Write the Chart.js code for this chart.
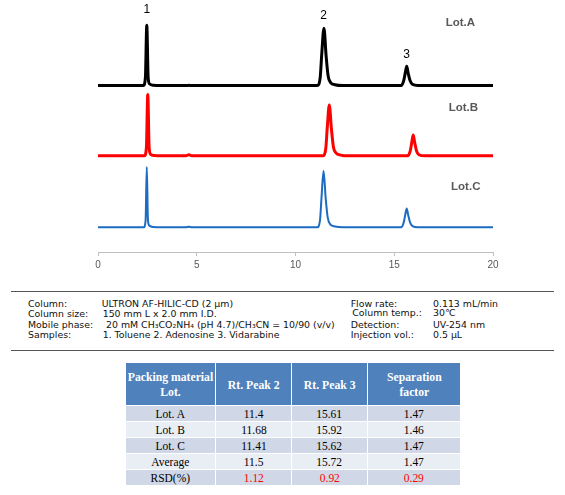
<!DOCTYPE html>
<html>
<head>
<meta charset="utf-8">
<script src="https://cdn.jsdelivr.net/npm/chart.js@4.4.1/dist/chart.umd.min.js"></script>
<style>
  html, body { margin:0; padding:0; background:#ffffff; }
  body { width:565px; height:495px; position:relative; overflow:hidden; }
  #chartWrap { position:absolute; left:0; top:0; width:565px; height:285px; }
  .info { position:absolute; font-family:"DejaVu Sans", sans-serif; font-size:9.4px; line-height:11px; color:#111; white-space:nowrap; }
  .hr { position:absolute; left:11px; width:543px; height:0; border-top:1px solid #555; }
  table { position:absolute; left:125px; top:362px; width:335px; border-collapse:collapse; table-layout:fixed; font-family:"Liberation Serif", serif; }
  td, th { border:1px solid #ffffff; padding:0; text-align:center; white-space:nowrap; }
  th { background:#4f81bd; color:#ffffff; font-weight:bold; font-size:13px; line-height:15px; height:42px; }
  td { font-size:13.5px; height:15px; line-height:15px; color:#000; }
  tr.dark td { background:#d0d8e8; }
  tr.light td { background:#e9edf4; }
  .cell { display:flex; justify-content:center; width:100%; }
  .sx { display:inline-block; transform:scaleX(0.85); flex:none; }
  .hx { display:inline-block; transform:scaleX(0.9); flex:none; }
  .red { color:#ff0000; }
</style>
</head>
<body>
<div id="chartWrap"><canvas id="c" width="565" height="285"></canvas></div>
<div id="infoBox"></div>
<table id="tbl"></table>
<script>
// ---------------- DATA ----------------
const lots = ["Lot.A", "Lot.B", "Lot.C"];
const xTicks = [0, 5, 10, 15, 20];

const lotATime   = [0, 2.30, 2.40, 2.47, 2.54, 2.62, 2.80, 3.2, 4.5, 4.6, 4.7, 11.10, 11.25, 11.33, 11.44, 11.55, 11.65, 11.78, 12.00, 12.4, 15.35, 15.48, 15.56, 15.63, 15.71, 15.80, 15.92, 16.2, 20];
const lotASignal = [0, 0,    8,    61,   8,    1.5,  0.3,  0,   0,   0.2, 0,   0,     8,     32,    58,    30,    10,    3,     0.8,   0,    0,     5,     13,    19.5,  12,    5,     1.2,   0,    0];

const lotBTime   = [0, 2.35, 2.45, 2.52, 2.59, 2.67, 2.85, 3.2, 4.45, 4.6, 4.75, 11.38, 11.53, 11.61, 11.71, 11.82, 11.92, 12.05, 12.28, 12.7, 15.68, 15.81, 15.89, 15.96, 16.04, 16.13, 16.25, 16.55, 20];
const lotBSignal = [0, 0,    8,    62,   8,    1.5,  0.3,  0,   0,    1.2, 0,    0,     7,     29,    51.5,  27,    9,     3,     0.8,   0,    0,     5,     14,    21,    13,    5,     1.2,   0,     0];

const lotCTime   = [0, 2.32, 2.41, 2.47, 2.53, 2.61, 2.80, 3.2, 4.45, 4.6, 4.75, 11.10, 11.24, 11.32, 11.42, 11.53, 11.63, 11.76, 12.00, 12.4, 15.35, 15.48, 15.56, 15.63, 15.71, 15.80, 15.92, 16.2, 20];
const lotCSignal = [0, 0,    7,    61,   7,    1.5,  0.3,  0,   0,    0.6, 0,    0,     7,     31,    57,    29,    10,    3,     0.8,   0,    0,     5,     13,    19,    12,    5,     1.2,   0,    0];

const peakNames = ["1", "2", "3"];
const peakTimes = [2.47, 11.42, 15.62];

const infoLeftLabels  = ["Column:", "Column size:", "Mobile phase:", "Samples:"];
const infoLeftValues  = ["ULTRON AF-HILIC-CD (2 µm)", "150 mm L x 2.0 mm I.D.", "20 mM CH\u2083CO\u2082NH\u2084 (pH 4.7)/CH\u2083CN = 10/90 (v/v)", "1. Toluene  2. Adenosine  3. Vidarabine"];
const infoRightLabels = ["Flow rate:", "Column temp.:", "Detection:", "Injection vol.:"];
const infoRightValues = ["0.113 mL/min", "30\u2103", "UV-254 nm", "0.5 µL"];

const tableHeaders = ["Packing material<br>Lot.", "Rt. Peak 2", "Rt. Peak 3", "Separation<br>factor"];
const tableRowNames = ["Lot. A", "Lot. B", "Lot. C", "Average", "RSD(%)"];
const rtPeak2 = ["11.4", "11.68", "11.41", "11.5", "1.12"];
const rtPeak3 = ["15.61", "15.92", "15.62", "15.72", "0.92"];
const sepFactor = ["1.47", "1.46", "1.47", "1.47", "0.29"];

// ---------------- LAYOUT / STYLE ----------------
const traceOffsets = [168.5, 97.3, 25];
const traceColors = ["#000000", "#ff0000", "#1c6cc2"];
const traceWidths = [3, 3, 2];
const lotLabelPos = [[18.35, 232], [18.5, 146], [18.62, 66]];
const peakLabelY = [245.5, 239, 200];

const times = [lotATime, lotBTime, lotCTime];
const signals = [lotASignal, lotBSignal, lotCSignal];

const datasets = lots.map((name, k) => ({
  label: name,
  data: times[k].map((t, i) => ({ x: t, y: signals[k][i] + traceOffsets[k] })),
  borderColor: traceColors[k],
  borderWidth: traceWidths[k],
  pointRadius: 0,
  fill: false,
  cubicInterpolationMode: 'monotone',
  borderJoinStyle: 'round',
  borderCapStyle: 'round'
}));

const labelPlugin = {
  id: 'labels',
  afterDatasetsDraw(chart) {
    const ctx = chart.ctx;
    const xs = chart.scales.x, ys = chart.scales.y;
    ctx.save();
    ctx.textAlign = 'center';
    ctx.textBaseline = 'middle';
    ctx.fillStyle = '#000';
    ctx.font = '12px "Liberation Sans", sans-serif';
    peakNames.forEach((n, i) => {
      ctx.fillText(n, xs.getPixelForValue(peakTimes[i]), ys.getPixelForValue(peakLabelY[i]));
    });
    ctx.fillStyle = '#595959';
    ctx.font = 'bold 11.5px "Liberation Sans", sans-serif';
    lots.forEach((n, i) => {
      ctx.fillText(n, xs.getPixelForValue(lotLabelPos[i][0]), ys.getPixelForValue(lotLabelPos[i][1]));
    });
    ctx.restore();
  }
};

new Chart(document.getElementById('c'), {
  type: 'line',
  data: { datasets },
  options: {
    responsive: false,
    animation: false,
    devicePixelRatio: 1,
    layout: { padding: { left: 98, right: 72, top: 5, bottom: 11 } },
    plugins: { legend: { display: false }, tooltip: { enabled: false } },
    scales: {
      x: {
        type: 'linear', min: 0, max: 20,
        afterBuildTicks: (s) => { s.ticks = xTicks.map(v => ({ value: v })); },
        ticks: { color: '#595959', font: { family: 'Liberation Sans', size: 10 }, padding: 3, maxRotation: 0 },
        grid: { display: true, drawOnChartArea: false, drawTicks: true, tickLength: 4, color: '#bfbfbf' },
        border: { display: true, color: '#bfbfbf', width: 1 }
      },
      y: { type: 'linear', min: 0, max: 250, display: false }
    }
  },
  plugins: [labelPlugin]
});

// ---------------- INFO BLOCK ----------------
const infoBox = document.getElementById('infoBox');
function addDiv(text, left, top) {
  const d = document.createElement('div');
  d.className = 'info';
  d.textContent = text;
  d.style.left = left + 'px';
  d.style.top = top + 'px';
  infoBox.appendChild(d);
}
const hr1 = document.createElement('div'); hr1.className = 'hr'; hr1.style.top = '291px'; infoBox.appendChild(hr1);
const hr2 = document.createElement('div'); hr2.className = 'hr'; hr2.style.top = '350px'; infoBox.appendChild(hr2);
const rowTops = [298.2, 308.2, 318.9, 329.2];
const leftValX = [101.7, 102.7, 106, 102.7];
const rightLabX = [350.7, 352.3, 350.7, 350.7];
const rightTops = [298.2, 307.4, 318.9, 329.2];
infoLeftLabels.forEach((t, i) => addDiv(t, 28, rowTops[i]));
infoLeftValues.forEach((t, i) => addDiv(t, leftValX[i], rowTops[i]));
infoRightLabels.forEach((t, i) => addDiv(t, rightLabX[i], rightTops[i]));
infoRightValues.forEach((t, i) => addDiv(t, 433, rightTops[i]));

// ---------------- TABLE ----------------
const colW = [90, 76, 76, 93];
const tbl = document.getElementById('tbl');
const wrap = (txt, cls) => '<div class="cell"><span class="' + cls + '">' + txt + '</span></div>';
let html = '<colgroup>' + colW.map(w => '<col style="width:' + w + 'px">').join('') + '</colgroup>';
html += '<tr>' + tableHeaders.map(h => '<th>' + wrap(h, 'hx') + '</th>').join('') + '</tr>';
tableRowNames.forEach((n, i) => {
  const isRsd = i === tableRowNames.length - 1;
  const cls = isRsd ? 'sx red' : 'sx';
  html += '<tr class="' + (i % 2 === 0 ? 'dark' : 'light') + '">' +
    '<td>' + wrap(n, 'sx') + '</td>' +
    '<td>' + wrap(rtPeak2[i], cls) + '</td>' +
    '<td>' + wrap(rtPeak3[i], cls) + '</td>' +
    '<td>' + wrap(sepFactor[i], cls) + '</td></tr>';
});
tbl.innerHTML = html;
</script>
</body>
</html>
